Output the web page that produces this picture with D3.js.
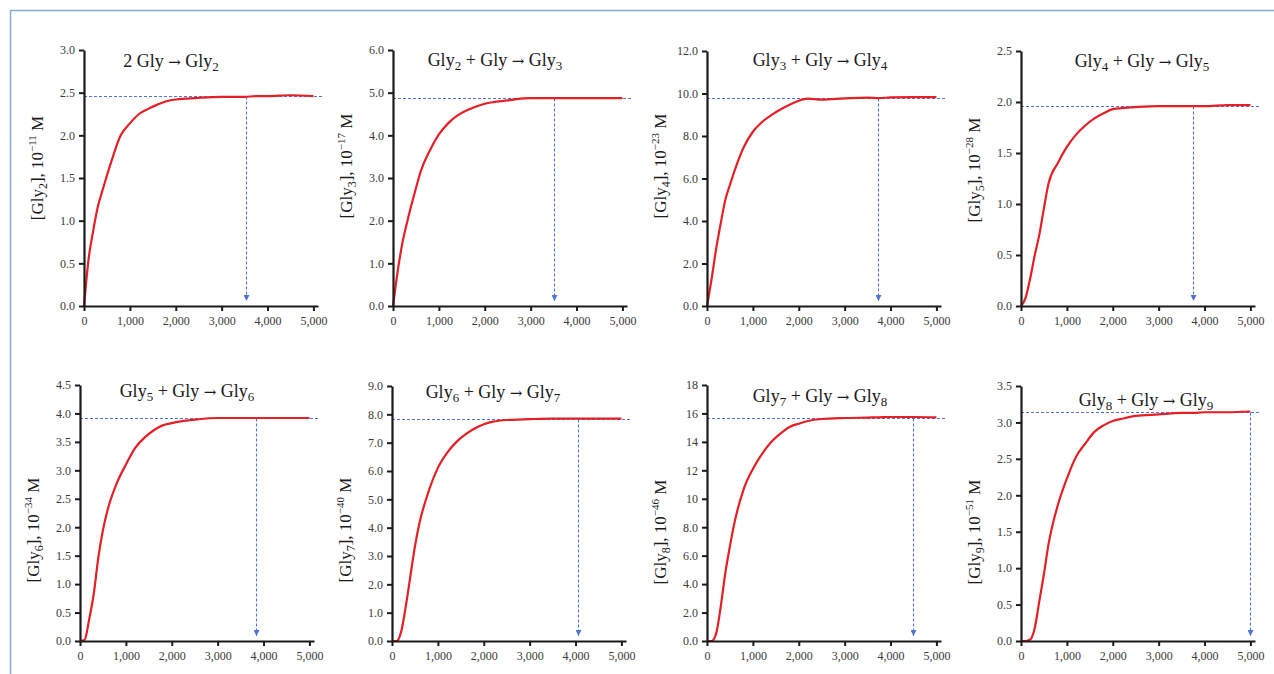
<!DOCTYPE html>
<html>
<head>
<meta charset="utf-8">
<script src="https://cdn.jsdelivr.net/npm/d3@7"></script>
<style>
  html, body { margin: 0; padding: 0; background: #fff; }
  svg { display: block; }
</style>
</head>
<body>
<svg id="chart" width="1274" height="674"></svg>
<script>
// Reaction time (common sampling grid for every panel)
const time = [0, 100, 200, 300, 400, 500, 600, 800, 1000, 1200, 1400, 1600, 1800, 2000, 2200, 2500, 3000, 3500, 3750, 4000, 4500, 5000];

// Concentration of each product, in units of the power of ten shown on the axis
const gly2 = [0, 0.55, 0.88, 1.16, 1.35, 1.53, 1.70, 2.00, 2.14, 2.25, 2.31, 2.36, 2.40, 2.42, 2.43, 2.44, 2.45, 2.45, 2.46, 2.46, 2.47, 2.46];
const gly3 = [0, 0.80, 1.45, 1.93, 2.36, 2.76, 3.14, 3.64, 4.02, 4.28, 4.46, 4.58, 4.67, 4.74, 4.78, 4.82, 4.87, 4.87, 4.87, 4.87, 4.87, 4.87];
const gly4 = [0, 1.27, 2.70, 3.90, 5.00, 5.70, 6.36, 7.47, 8.20, 8.66, 8.98, 9.25, 9.47, 9.66, 9.76, 9.71, 9.77, 9.81, 9.78, 9.82, 9.83, 9.83];
const gly5 = [0, 0.08, 0.27, 0.50, 0.70, 0.96, 1.20, 1.40, 1.56, 1.68, 1.77, 1.84, 1.89, 1.93, 1.94, 1.95, 1.96, 1.96, 1.96, 1.96, 1.97, 1.97];
const gly6 = [0, 0.02, 0.38, 0.83, 1.47, 1.95, 2.30, 2.77, 3.10, 3.39, 3.57, 3.70, 3.79, 3.83, 3.86, 3.89, 3.92, 3.92, 3.92, 3.92, 3.92, 3.92];
const gly7 = [0, 0.00, 0.33, 1.22, 2.28, 3.34, 4.17, 5.29, 6.11, 6.64, 7.02, 7.29, 7.50, 7.65, 7.74, 7.80, 7.83, 7.85, 7.85, 7.85, 7.85, 7.85];
const gly8 = [0, 0.00, 0.54, 2.43, 4.79, 6.67, 8.33, 10.68, 12.10, 13.16, 13.99, 14.58, 15.05, 15.28, 15.47, 15.61, 15.68, 15.71, 15.73, 15.75, 15.75, 15.73];
const gly9 = [0, 0.00, 0.02, 0.18, 0.55, 0.92, 1.33, 1.86, 2.23, 2.53, 2.71, 2.87, 2.96, 3.02, 3.05, 3.09, 3.11, 3.13, 3.13, 3.14, 3.14, 3.15];

// Equilibrium concentration and the time at which it is reached
const plateau = [2.46, 4.87, 9.80, 1.96, 3.92, 7.85, 15.7, 3.15];
const equilTime = [3520, 3500, 3720, 3740, 3840, 4050, 4500, 5000];

// Reaction labels
const reactions = [
  { lead: "2 Gly", leadSub: null, prod: "2" },
  { lead: "Gly", leadSub: "2", prod: "3" },
  { lead: "Gly", leadSub: "3", prod: "4" },
  { lead: "Gly", leadSub: "4", prod: "5" },
  { lead: "Gly", leadSub: "5", prod: "6" },
  { lead: "Gly", leadSub: "6", prod: "7" },
  { lead: "Gly", leadSub: "7", prod: "8" },
  { lead: "Gly", leadSub: "8", prod: "9" }
];
const exponents = ["\u221211", "\u221217", "\u221223", "\u221228", "\u221234", "\u221240", "\u221246", "\u221251"];

// Tick values and labels
const xTicks = [0, 1000, 2000, 3000, 4000, 5000];
const xTickLabels = ["0", "1,000", "2,000", "3,000", "4,000", "5,000"];
const yTicks = [
  [0, 0.5, 1, 1.5, 2, 2.5, 3],
  [0, 1, 2, 3, 4, 5, 6],
  [0, 2, 4, 6, 8, 10, 12],
  [0, 0.5, 1, 1.5, 2, 2.5],
  [0, 0.5, 1, 1.5, 2, 2.5, 3, 3.5, 4, 4.5],
  [0, 1, 2, 3, 4, 5, 6, 7, 8, 9],
  [0, 2, 4, 6, 8, 10, 12, 14, 16, 18],
  [0, 0.5, 1, 1.5, 2, 2.5, 3, 3.5]
];
const yTickLabels = [
  ["0.0", "0.5", "1.0", "1.5", "2.0", "2.5", "3.0"],
  ["0.0", "1.0", "2.0", "3.0", "4.0", "5.0", "6.0"],
  ["0.0", "2.0", "4.0", "6.0", "8.0", "10.0", "12.0"],
  ["0.0", "0.5", "1.0", "1.5", "2.0", "2.5"],
  ["0.0", "0.5", "1.0", "1.5", "2.0", "2.5", "3.0", "3.5", "4.0", "4.5"],
  ["0.0", "1.0", "2.0", "3.0", "4.0", "5.0", "6.0", "7.0", "8.0", "9.0"],
  ["0.0", "2.0", "4.0", "6.0", "8.0", "10", "12", "14", "16", "18"],
  ["0.0", "0.5", "1.0", "1.5", "2.0", "2.5", "3.0", "3.5"]
];

const series = [gly2, gly3, gly4, gly5, gly6, gly7, gly8, gly9];

// Panel placement
const layout = [
  { left: 84, top: 50, bottom: 306, titleX: 87, titleY: 67, labelY: 168 },
  { left: 393, top: 50, bottom: 306, titleX: 102, titleY: 66, labelY: 166 },
  { left: 707, top: 51, bottom: 306, titleX: 113, titleY: 66, labelY: 166 },
  { left: 1021, top: 51, bottom: 306, titleX: 121, titleY: 67, labelY: 170 },
  { left: 80, top: 385, bottom: 641, titleX: 107, titleY: 397, labelY: 530 },
  { left: 392, top: 386, bottom: 641, titleX: 101, titleY: 398, labelY: 530 },
  { left: 707, top: 385, bottom: 641, titleX: 113, titleY: 402, labelY: 532 },
  { left: 1021, top: 386, bottom: 641, titleX: 125, titleY: 406, labelY: 532 }
];

const svg = d3.select("#chart");
const serif = '"Liberation Serif", "Times New Roman", serif';
const red = "#e41f26";
const blue = "#4f74d6";

// Outer frame (top and left edges)
svg.append("path")
  .attr("d", "M10.5,674 L10.5,10.5 L1274,10.5")
  .attr("fill", "none")
  .attr("stroke", "#86add0")
  .attr("stroke-width", 1.5);

svg.append("defs").append("marker")
  .attr("id", "arrow")
  .attr("viewBox", "0 0 10 10")
  .attr("refX", 10).attr("refY", 5)
  .attr("markerWidth", 6).attr("markerHeight", 6)
  .attr("markerUnits", "userSpaceOnUse")
  .attr("orient", "auto")
  .append("path")
  .attr("d", "M0,0 L10,5 L0,10 Z")
  .attr("fill", blue);

series.forEach((vals, i) => {
  const L = layout[i];
  const ticks = yTicks[i];
  const x = d3.scaleLinear().domain([0, 5100]).range([L.left, L.left + 234]);
  const y = d3.scaleLinear().domain([0, ticks[ticks.length - 1]]).range([L.bottom, L.top]);
  const g = svg.append("g");

  // equilibrium guide lines
  const hy = Math.round(y(plateau[i])) + 0.5;
  const vx = Math.round(x(equilTime[i])) + 0.5;
  g.append("line")
    .attr("x1", x(0)).attr("x2", x(5220))
    .attr("y1", hy).attr("y2", hy)
    .attr("stroke", blue).attr("stroke-width", 1.1)
    .attr("stroke-dasharray", "3,2");
  g.append("line")
    .attr("x1", vx).attr("x2", vx)
    .attr("y1", hy).attr("y2", L.bottom - 5)
    .attr("stroke", blue).attr("stroke-width", 1.1)
    .attr("stroke-dasharray", "3,2")
    .attr("marker-end", "url(#arrow)");

  // concentration curve
  const line = d3.line().x((d, k) => x(time[k])).y(d => y(d)).curve(d3.curveMonotoneX);
  g.append("path")
    .attr("d", line(vals))
    .attr("fill", "none")
    .attr("stroke", red)
    .attr("stroke-width", 2.2)
    .attr("stroke-linejoin", "round");

  // axes
  const xAxis = d3.axisBottom(x).tickValues(xTicks)
    .tickFormat((d, k) => xTickLabels[k]).tickSize(5).tickSizeOuter(0).tickPadding(5);
  const yAxis = d3.axisLeft(y).tickValues(ticks)
    .tickFormat((d, k) => yTickLabels[i][k]).tickSize(5).tickSizeOuter(0).tickPadding(4);

  const gx = g.append("g").attr("transform", `translate(0,${L.bottom})`).call(xAxis);
  const gy = g.append("g").attr("transform", `translate(${L.left},0)`).call(yAxis);
  [gx, gy].forEach(a => {
    a.attr("font-family", serif).attr("font-size", 12);
    a.select(".domain").attr("stroke", "#1a1a1a").attr("stroke-width", 2.2);
    a.selectAll(".tick line").attr("stroke", "#1a1a1a").attr("stroke-width", 2);
    a.selectAll(".tick text").attr("fill", "#3a3a3a");
  });

  // reaction title
  const r = reactions[i];
  const t = g.append("text")
    .attr("x", L.left + L.titleX).attr("y", L.titleY)
    .attr("text-anchor", "middle")
    .attr("font-family", serif).attr("font-size", 18).attr("fill", "#1a1a1a");
  t.append("tspan").text(r.lead);
  if (r.leadSub) {
    t.append("tspan").attr("font-size", 13).attr("dy", 4).text(r.leadSub);
    t.append("tspan").attr("dy", -4).text(" + Gly ");
  } else {
    t.append("tspan").text(" ");
  }
  t.append("tspan").attr("font-family", '"DejaVu Serif", serif').attr("font-size", 15).text("\u2192");
  t.append("tspan").text(" Gly");
  t.append("tspan").attr("font-size", 13).attr("dy", 4).text(r.prod);

  // y-axis label
  const lx = L.left - 41;
  const lab = g.append("text")
    .attr("transform", `translate(${lx},${L.labelY}) rotate(-90)`)
    .attr("text-anchor", "middle")
    .attr("font-family", serif).attr("font-size", 17).attr("fill", "#1a1a1a");
  lab.append("tspan").text("[Gly");
  lab.append("tspan").attr("font-size", 12).attr("dy", 4).text(r.prod);
  lab.append("tspan").attr("dy", -4).text("], 10");
  lab.append("tspan").attr("font-size", 11).attr("dy", -7).text(exponents[i]);
  lab.append("tspan").attr("dy", 7).text(" M");
});
</script>
</body>
</html>
